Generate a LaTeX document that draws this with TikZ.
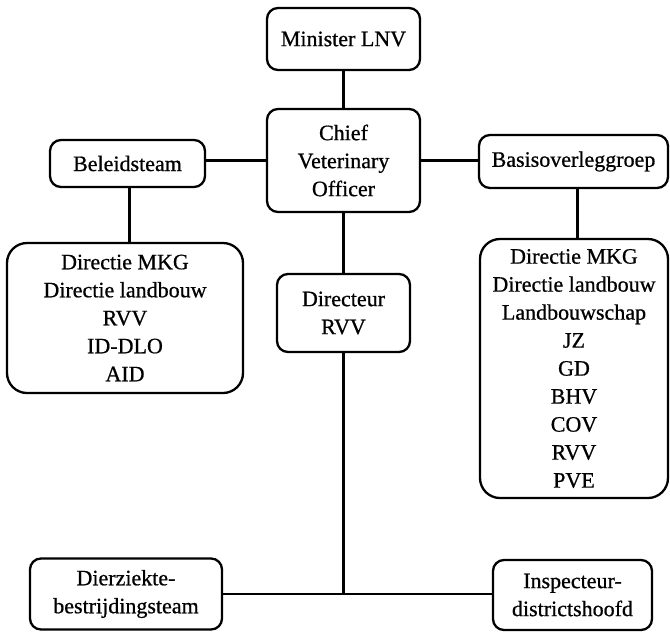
\documentclass[tikz,border=0pt]{standalone}
\usepackage{fontspec}
\setmainfont{Liberation Serif}[FakeBold=0.7]
\begin{document}
\begin{tikzpicture}[x=1pt,y=-1pt,
  box/.style={draw,line width=2.3pt,rounded corners=11pt,align=center,inner sep=0pt,
    font=\fontsize{22}{28}\selectfont},
  listbox/.style={box,rounded corners=20pt},
  conn/.style={line width=2.3pt}]
\useasboundingbox (0,0) rectangle (670,633);
\node[box,minimum width=153pt,minimum height=62pt] (min) at (343.5,39) {Minister LNV};
\node[box,minimum width=153pt,minimum height=103pt] (cvo) at (343.5,160.5) {Chief\\Veterinary\\Officer};
\node[box,minimum width=155pt,minimum height=47pt] (bel) at (127.5,163.5) {Beleidsteam};
\node[box,minimum width=189pt,minimum height=53pt] (bas) at (573.5,161.5) {Basisoverleggroep};
\node[listbox,minimum width=236pt,minimum height=150pt] (ll) at (125,318) {Directie MKG\\Directie landbouw\\RVV\\ID-DLO\\AID};
\node[listbox,minimum width=188pt,minimum height=259pt] (rl) at (574,368.5) {Directie MKG\\Directie landbouw\\Landbouwschap\\JZ\\GD\\BHV\\COV\\RVV\\PVE};
\node[box,minimum width=133pt,minimum height=78pt] (dir) at (343.5,313) {Directeur\\RVV};
\node[box,minimum width=192pt,minimum height=71pt] (dzb) at (126,594) {Dierziekte-\\bestrijdingsteam};
\node[box,minimum width=159pt,minimum height=70pt] (ins) at (572.5,595) {Inspecteur-\\districtshoofd};
\coordinate (j) at (343.5,594.5);
\draw[conn] (min.south) -- (cvo.north);
\draw[conn] (cvo.west) -- (bel.east |- cvo.west);
\draw[conn] (cvo.east) -- (bas.west |- cvo.east);
\draw[conn] ([xshift=2pt]bel.south) -- ([xshift=2pt]bel.south |- ll.north);
\draw[conn] ([xshift=4pt]bas.south) -- ([xshift=4pt]bas.south |- rl.north);
\draw[conn] (cvo.south) -- (dir.north);
\draw[conn] (dir.south) -- (j);
\draw[conn] (dzb.east) -- (ins.west |- dzb.east);
\end{tikzpicture}
\end{document}
